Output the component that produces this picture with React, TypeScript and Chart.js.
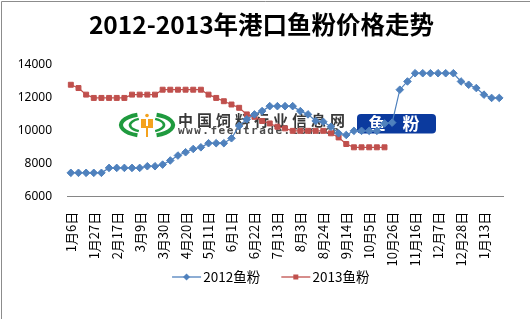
import React, { useEffect, useRef } from "react";
import { Chart, registerables } from "chart.js";

Chart.register(...registerables);

const dates = [
  "1月6日", "1月13日", "1月20日", "1月27日", "2月3日", "2月10日", "2月17日", "2月24日",
  "3月2日", "3月9日", "3月16日", "3月23日", "3月30日", "4月6日", "4月13日", "4月20日",
  "4月27日", "5月4日", "5月11日", "5月18日", "5月25日", "6月1日", "6月8日", "6月15日",
  "6月22日", "6月29日", "7月6日", "7月13日", "7月20日", "7月27日", "8月3日", "8月10日",
  "8月17日", "8月24日", "8月31日", "9月7日", "9月14日", "9月21日", "9月28日", "10月5日",
  "10月12日", "10月19日", "10月26日", "11月2日", "11月9日", "11月16日", "11月23日", "11月30日",
  "12月7日", "12月14日", "12月21日", "12月28日", "1月4日", "1月9日", "1月13日", "1月20日", "1月27日",
];

const fishmeal2012 = [
  7450, 7450, 7450, 7450, 7450, 7750, 7750, 7750, 7750, 7750,
  7850, 7850, 7950, 8200, 8500, 8700, 8900, 9000, 9250, 9250,
  9250, 9550, 10300, 10700, 11000, 11200, 11500, 11500, 11500, 11500,
  11200, 11000, 10600, 10550, 10250, 9850, 9750, 10000, 10000, 10000,
  10000, 10450, 10500, 12500, 13000, 13500, 13500, 13500, 13500, 13500,
  13500, 13000, 12800, 12600, 12200, 12000, 12000,
];

const fishmeal2013 = [
  12800, 12600, 12200, 12000, 12000, 12000, 12000, 12000, 12200, 12200,
  12200, 12200, 12500, 12500, 12500, 12500, 12500, 12500, 12200, 12000,
  11800, 11600, 11400, 11000, 10850, 10600, 10450, 10250, 10150, 10000,
  10000, 10000, 10000, 10000, 9850, 9600, 9200, 9000, 9000, 9000,
  9000, 9000, null, null, null, null, null, null, null, null,
  null, null, null, null, null, null, null,
];

const seriesNames = ["2012鱼粉", "2013鱼粉"];
const yMin = 6000;
const yMax = 14000;
const yStep = 1000;
const labelEvery = 3;

const BLUE = "#4F81BD";
const RED = "#C0504D";

// legend swatch: image is 54px wide, centred on the legend box (box width 43)
function makeLegendIcon(color: string, shape: "diamond" | "square") {
  const c = document.createElement("canvas");
  c.width = 54;
  c.height = 10;
  const g = c.getContext("2d")!;
  const x0 = 24, x1 = 53;
  const mx = (x0 + x1) / 2;
  g.strokeStyle = color;
  g.lineWidth = 1.3;
  g.beginPath();
  g.moveTo(x0, 5);
  g.lineTo(x1, 5);
  g.stroke();
  g.fillStyle = color;
  g.beginPath();
  if (shape === "diamond") {
    g.moveTo(mx, 1.5);
    g.lineTo(mx + 3.5, 5);
    g.lineTo(mx, 8.5);
    g.lineTo(mx - 3.5, 5);
    g.closePath();
  } else {
    g.rect(mx - 2.5, 2.5, 5, 5);
  }
  g.fill();
  return c;
}

const decorPlugin = {
  id: "decor",
  beforeDatasetsDraw(chart: any) {
    const ctx = chart.ctx as CanvasRenderingContext2D;
    ctx.save();
    // logo
    const cx = 147, cy = 125;
    ctx.strokeStyle = "#1f9a3e";
    ctx.lineWidth = 4;
    ctx.beginPath();
    ctx.ellipse(cx, cy, 26, 11, 0, Math.PI * 0.62, Math.PI * 1.38);
    ctx.stroke();
    ctx.beginPath();
    ctx.ellipse(cx, cy, 26, 11, 0, -Math.PI * 0.38, Math.PI * 0.38);
    ctx.stroke();
    ctx.lineWidth = 2.5;
    ctx.beginPath();
    ctx.ellipse(cx, cy, 17, 7, 0, Math.PI * 0.66, Math.PI * 1.34);
    ctx.stroke();
    ctx.beginPath();
    ctx.ellipse(cx, cy, 17, 7, 0, -Math.PI * 0.34, Math.PI * 0.34);
    ctx.stroke();
    ctx.fillStyle = "#f4a21d";
    ctx.beginPath();
    ctx.arc(cx, 115.5, 1.8, 0, Math.PI * 2);
    ctx.fill();
    ctx.fillRect(cx - 6, 119, 5, 9);
    ctx.fillRect(cx + 1, 119, 5, 9);
    ctx.fillRect(cx - 1, 126, 2, 11);
    // logo text
    ctx.fillStyle = "#383838";
    ctx.textBaseline = "middle";
    ctx.textAlign = "left";
    ctx.font = "bold 15px 'Noto Sans CJK SC'";
    (ctx as any).letterSpacing = "4px";
    ctx.fillText("中国饲料行业信息网", 178, 120);
    ctx.font = "bold 11px 'DejaVu Sans Mono'";
    (ctx as any).letterSpacing = "1.5px";
    ctx.fillStyle = "#4a4a4a";
    ctx.fillText("www.feedtrade.com.cn", 178, 131);
    (ctx as any).letterSpacing = "0px";
    // badge
    ctx.fillStyle = "#0b3a9e";
    ctx.beginPath();
    (ctx as any).roundRect(357, 114, 79, 19.5, 4);
    ctx.fill();
    ctx.fillStyle = "#ffffff";
    ctx.textAlign = "center";
    ctx.font = "bold 17px 'Noto Sans CJK SC'";
    ctx.fillText("鱼", 377, 124);
    ctx.fillText("粉", 411, 124);
    ctx.restore();
  },
  afterDraw(chart: any) {
    const ctx = chart.ctx as CanvasRenderingContext2D;
    ctx.save();
    ctx.strokeStyle = "#8c8c8c";
    ctx.lineWidth = 1;
    ctx.beginPath();
    ctx.moveTo(1.5, 319);
    ctx.lineTo(1.5, 1.5);
    ctx.lineTo(530, 1.5);
    ctx.stroke();
    ctx.restore();
  },
};

export default function App() {
  const ref = useRef<HTMLCanvasElement>(null);

  useEffect(() => {
    document.body.style.margin = "0";
    const canvas = ref.current;
    if (!canvas) return;
    const icons = [makeLegendIcon(BLUE, "diamond"), makeLegendIcon(RED, "square")];
    const chart = new Chart(canvas, {
      type: "line",
      data: {
        labels: dates,
        datasets: [
          {
            label: seriesNames[0],
            data: fishmeal2012,
            borderColor: BLUE,
            backgroundColor: BLUE,
            borderWidth: 1.2,
            pointStyle: "rectRot",
            pointRadius: 3.8,
            pointBorderWidth: 1,
            pointBackgroundColor: BLUE,
            pointBorderColor: BLUE,
            tension: 0,
          },
          {
            label: seriesNames[1],
            data: fishmeal2013,
            borderColor: RED,
            backgroundColor: RED,
            borderWidth: 1.2,
            pointStyle: "rect",
            pointRadius: 3.5,
            pointBorderWidth: 1,
            pointBackgroundColor: RED,
            pointBorderColor: RED,
            tension: 0,
            spanGaps: false,
          },
        ],
      },
      options: {
        animation: false,
        responsive: false,
        devicePixelRatio: 1,
        layout: { padding: { left: 8, right: 15, top: 0, bottom: 25.25 } },
        plugins: {
          tooltip: { enabled: false },
          title: {
            display: true,
            text: "2012-2013年港口鱼粉价格走势",
            color: "#000",
            font: { size: 24.5, weight: "bold", family: "'Noto Sans CJK SC'", lineHeight: 1.2 },
            padding: { top: 10.3, bottom: 25.3 },
          },
          legend: {
            position: "bottom",
            labels: {
              color: "#000",
              font: { size: 13.5, family: "'Noto Sans CJK SC'" },
              usePointStyle: true,
              pointStyleWidth: 43,
              padding: 2.55,
              generateLabels: (ch: any) => {
                const items = (Chart.defaults.plugins.legend.labels as any).generateLabels(ch);
                items.forEach((it: any, i: number) => {
                  it.pointStyle = icons[i];
                });
                return items;
              },
            },
          },
        },
        scales: {
          x: {
            type: "category",
            offset: true,
            grid: { display: false, drawTicks: false },
            border: { display: true, color: "#868686", width: 1 },
            ticks: {
              autoSkip: false,
              maxRotation: 90,
              minRotation: 90,
              padding: 15,
              color: "#000",
              font: { size: 13, family: "'Noto Sans CJK SC'" },
              callback: (_v: any, i: number) => (i % labelEvery === 0 ? dates[i] : ""),
            },
            afterFit: (s: any) => {
              s.height = 71;
            },
          },
          y: {
            min: yMin,
            max: yMax,
            grid: { display: false, drawTicks: false },
            border: { display: false },
            ticks: {
              stepSize: yStep,
              padding: 15,
              color: "#000",
              font: { size: 12, family: "'Noto Sans'" },
              callback: (v: any) => String(v),
            },
            afterFit: (s: any) => {
              s.width = 59;
            },
          },
        },
      },
      plugins: [decorPlugin],
    } as any);
    return () => chart.destroy();
  }, []);

  return (
    <div style={{ width: 530, height: 319 }}>
      <canvas ref={ref} width={530} height={319} style={{ display: "block" }} />
    </div>
  );
}
